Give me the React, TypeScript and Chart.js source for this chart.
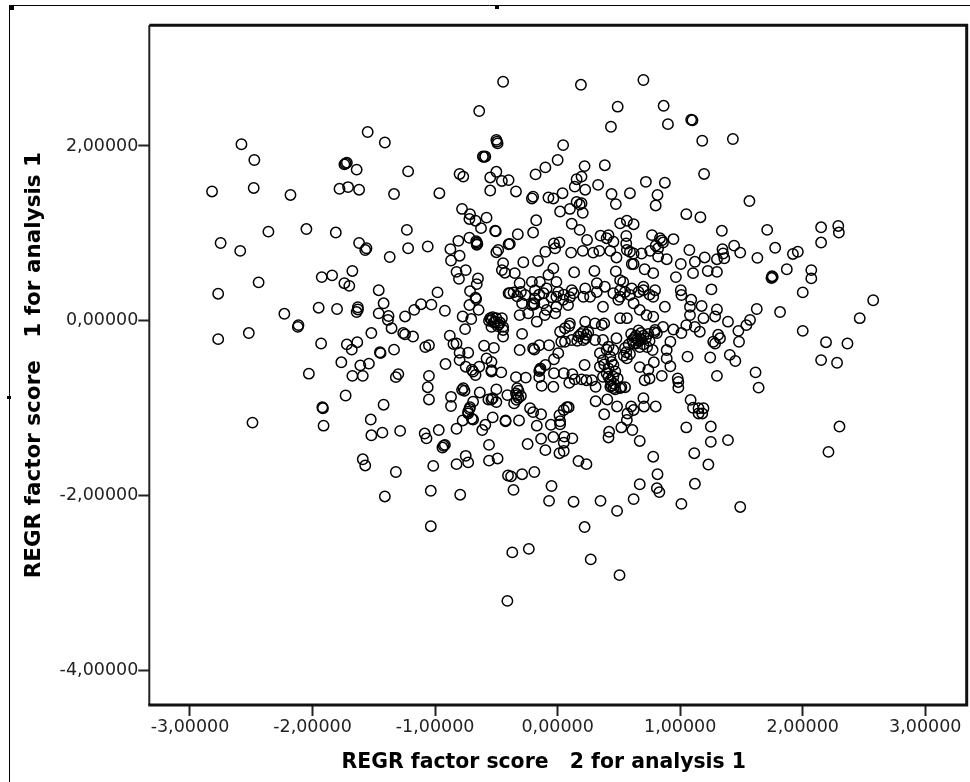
import React, { useEffect, useRef } from "react";
import { Chart, registerables } from "chart.js";

Chart.register(...registerables);

type P = [number, number];

const xTitle = "REGR factor score   2 for analysis 1    ";
const yTitle = "REGR factor score   1 for analysis 1";
const xTickValues = [-3, -2, -1, 0, 1, 2, 3];
const yTickValues = [-4, -2, 0, 2];

const farLeftUpper: P[] = [
  [-2.58,2.02],[-2.475,1.84],[-2.82,1.48],[-2.48,1.52],[-2.18,1.44],[-1.55,2.16],[-1.41,2.04],[-1.73,1.80],[-1.72,1.81],[-1.74,1.79],
  [-1.64,1.73],[-1.78,1.51],[-1.71,1.53],[-1.62,1.50],[-1.335,1.45],[-1.22,1.71],[-2.36,1.02],[-2.05,1.05],[-1.81,1.01],[-2.75,0.89],
  [-2.59,0.80],[-1.62,0.89],[-1.57,0.81],[-1.56,0.83],[-1.37,0.73],[-1.23,1.04],[-1.22,0.83],[-2.44,0.44],[-2.77,0.31],[-1.925,0.50],
  [-1.84,0.52],[-1.675,0.57],[-1.74,0.43],[-1.70,0.40],[-1.46,0.35],[-1.42,0.20],[-2.23,0.08],[-1.95,0.15],[-1.80,0.135],[-1.63,0.155],
  [-1.64,0.10],[-1.63,0.13],[-1.46,0.085],[-1.38,0.055],[-1.385,0.01],[-1.245,0.05],[-1.355,-0.085],[-1.52,-0.14],[-2.115,-0.05],[-2.12,-0.07],
  [-1.06,0.85],
];

const farLeftLower: P[] = [
  [-2.77,-0.21],[-2.52,-0.14],[-1.93,-0.26],[-1.72,-0.27],[-1.635,-0.245],[-1.68,-0.33],[-1.45,-0.36],[-1.445,-0.37],[-1.335,-0.33],[-1.245,-0.155],
  [-1.26,-0.14],[-1.765,-0.475],[-1.61,-0.51],[-1.54,-0.49],[-1.675,-0.63],[-1.59,-0.63],[-2.03,-0.605],[-1.30,-0.61],[-1.32,-0.645],[-1.73,-0.855],
  [-1.42,-0.96],[-1.92,-0.99],[-1.915,-1.0],[-1.91,-1.20],[-2.49,-1.165],[-1.525,-1.13],[-1.52,-1.31],[-1.43,-1.28],[-1.285,-1.26],[-1.59,-1.585],
  [-1.57,-1.655],[-1.32,-1.73],[-1.41,-2.01],
];

const midLeftUpper: P[] = [
  [-0.78,1.28],[-0.715,1.22],[-0.72,1.165],[-0.67,1.145],[-0.58,1.18],[-0.625,1.06],[-0.51,1.03],[-0.505,1.025],[-0.81,0.915],[-0.72,0.95],
  [-0.66,0.895],[-0.665,0.91],[-0.655,0.88],[-0.66,0.87],[-0.875,0.82],[-0.80,0.745],[-0.87,0.69],[-0.825,0.56],[-0.75,0.58],[-0.805,0.48],
  [-0.485,0.81],[-0.50,0.785],[-0.40,0.875],[-0.445,0.66],[-0.455,0.58],[-0.43,0.55],[-0.65,0.485],[-0.66,0.42],[-0.715,0.34],[-0.67,0.265],
  [-0.665,0.25],[-0.72,0.18],[-0.645,0.125],[-0.775,0.05],[-0.705,0.02],[-0.755,-0.095],[-0.40,0.315],[-0.54,0.01],[-0.55,0.03],[-0.52,-0.02],
  [-0.50,0.03],[-0.455,0.03],[-0.47,-0.02],[-0.445,-0.105],[-0.92,0.115],[-0.98,0.325],[-1.03,0.185],[-1.115,0.19],[-1.17,0.125],[-1.18,-0.18],
  [-0.88,-0.17],[-0.48,-0.04],[-0.54,-0.07],[-0.445,-0.07],[-0.445,-0.18],
];

const midLeftLower: P[] = [
  [-1.08,-0.30],[-1.05,-0.28],[-0.915,-0.495],[-0.825,-0.26],[-0.85,-0.265],[-0.73,-0.365],[-0.80,-0.365],[-0.80,-0.45],[-0.60,-0.285],[-0.52,-0.31],
  [-0.58,-0.43],[-0.54,-0.47],[-0.64,-0.525],[-0.75,-0.525],[-0.70,-0.56],[-0.69,-0.58],[-0.67,-0.62],[-0.54,-0.565],[-0.54,-0.58],[-0.46,-0.59],
  [-1.05,-0.63],[-1.06,-0.76],[-1.05,-0.90],[-0.77,-0.77],[-0.78,-0.79],[-0.76,-0.80],[-0.635,-0.82],[-0.50,-0.785],[-0.87,-0.87],[-0.87,-0.975],
  [-0.69,-0.925],[-0.715,-0.99],[-0.72,-1.01],[-0.73,-1.04],[-0.73,-1.06],[-0.53,-0.885],[-0.54,-0.90],[-0.565,-0.90],[-0.50,-0.93],[-0.425,-1.14],
  [-0.53,-1.105],[-0.59,-1.19],[-0.615,-1.25],[-0.69,-1.13],[-0.70,-1.12],[-0.775,-1.14],[-0.825,-1.235],[-0.97,-1.25],[-1.085,-1.29],[-1.07,-1.345],
  [-0.92,-1.42],[-0.94,-1.45],[-0.93,-1.43],[-0.56,-1.42],[-0.56,-1.60],[-0.49,-1.575],[-0.75,-1.545],[-0.73,-1.62],[-0.825,-1.64],[-1.015,-1.66],
  [-0.405,-1.77],[-1.035,-1.945],[-0.795,-1.99],[-1.035,-2.35],
];

const centreLower: P[] = [
  [-0.29,-0.15],[-0.31,-0.335],[-0.20,-0.315],[-0.19,-0.33],[-0.15,-0.28],[-0.07,-0.28],[0.005,-0.37],[-0.03,-0.44],[-0.10,-0.505],[-0.145,-0.56],
  [-0.15,-0.575],[-0.14,-0.545],[-0.15,-0.645],[-0.03,-0.60],[0.05,-0.60],[0.12,-0.61],[0.14,-0.67],[0.095,-0.71],[0.22,-0.505],[0.195,-0.67],
  [0.235,-0.68],[0.28,-0.68],[0.31,-0.755],[-0.13,-0.745],[-0.035,-0.755],[-0.34,-0.645],[-0.26,-0.65],[-0.33,-0.77],[-0.33,-0.85],[-0.335,-0.905],
  [-0.32,-0.80],[-0.32,-0.88],[-0.41,-0.85],[-0.355,-0.945],[-0.425,-1.15],[-0.315,-1.14],[-0.225,-1.0],[-0.20,-1.045],[-0.135,-1.07],[-0.17,-1.20],
  [-0.245,-1.41],[-0.135,-1.35],[-0.10,-1.48],[-0.035,-1.33],[-0.055,-1.19],[0.02,-1.185],[0.015,-1.08],[0.02,-1.15],[0.075,-0.99],[0.09,-0.99],
  [0.05,-1.02],[0.055,-1.325],[0.12,-1.345],[0.05,-1.395],[0.05,-1.49],[0.015,-1.515],[0.17,-1.605],[0.235,-1.64],[-0.38,-1.78],[-0.29,-1.755],
  [-0.19,-1.73],[-0.36,-1.935],[-0.05,-1.89],[-0.07,-2.06],[0.13,-2.07],[0.35,-2.06],[0.485,-2.175],[0.62,-2.04],[0.22,-2.36],[0.67,-1.87],
  [0.81,-1.915],[0.83,-1.96],[0.815,-1.755],[0.78,-1.555],[0.67,-1.375],[1.05,-1.22],[1.115,-1.515],[1.12,-1.865],[1.01,-2.095],[0.42,-1.27],
  [0.415,-1.335],[0.52,-1.22],[0.61,-1.25],[0.38,-1.07],[0.565,-1.135],[0.31,-0.92],[0.405,-0.90],[0.485,-0.98],[0.60,-0.98],[0.62,-1.02],
  [0.70,-0.885],[0.705,-0.98],[0.80,-0.98],[0.57,-1.06],[-0.37,-2.65],[-0.235,-2.61],[-0.41,-3.205],[0.27,-2.73],[0.505,-2.91],
];

const centreDense: P[] = [
  [0.43,-0.755],[0.455,-0.77],[0.51,-0.77],[0.55,-0.76],[0.44,-0.74],[0.47,-0.785],[0.52,-0.76],[0.415,-0.64],[0.455,-0.64],[0.37,-0.64],
  [0.345,-0.525],[0.415,-0.545],[0.455,-0.505],[0.345,-0.37],[0.37,-0.45],[0.43,-0.41],[0.415,-0.295],[0.48,-0.20],[0.455,-0.335],[0.37,-0.22],
  [0.305,-0.22],[0.21,-0.125],[0.21,-0.22],[0.17,-0.18],[0.235,-0.16],[0.115,-0.22],[0.06,-0.24],[0.03,-0.24],[0.02,-0.125],[0.06,-0.085],
  [0.10,-0.03],[0.095,-0.06],[0.225,-0.01],[0.305,-0.03],[0.38,-0.03],[0.36,-0.05],[0.51,0.03],[0.565,0.03],[0.37,0.16],[0.495,0.24],
  [0.62,0.20],[0.67,0.125],[0.725,0.065],[0.78,0.047],[0.875,0.16],[0.63,-0.19],[0.64,-0.17],[0.65,-0.21],[0.68,-0.14],[0.70,-0.17],
  [0.70,-0.27],[0.72,-0.20],[0.64,-0.26],[0.66,-0.23],[0.61,-0.22],[0.66,-0.11],[0.795,-0.105],[0.81,-0.14],[0.79,-0.13],[0.565,-0.43],
  [0.54,-0.40],[0.59,-0.38],[0.56,-0.36],[0.67,-0.53],[0.775,-0.335],[0.785,-0.475],[0.74,-0.56],[0.71,-0.68],[0.75,-0.66],[0.85,-0.63],
  [0.92,-0.52],[0.89,-0.43],[0.89,-0.335],[0.92,-0.24],[0.98,-0.66],[0.985,-0.70],[0.985,-0.765],[1.06,-0.41],[1.085,-0.905],[1.105,-0.995],
  [1.15,-1.0],[1.15,-1.06],[1.01,-0.14],[0.945,-0.10],[0.86,-0.07],[1.05,-0.05],[1.12,-0.07],[1.08,0.065],[1.08,0.16],[1.09,0.24],
  [1.01,0.295],
];

const clusterExtras: P[] = [
  [-0.56,0.0],[-0.53,0.04],[-0.51,-0.01],[-0.49,-0.06],[0.19,-0.15],[0.23,-0.20],[0.25,-0.13],[0.16,-0.23],[0.40,-0.33],[0.44,-0.47],
  [0.47,-0.58],[0.40,-0.60],[0.43,-0.68],[0.38,-0.50],[0.46,-0.72],[0.49,-0.66],[0.60,-0.15],[0.62,-0.26],[0.68,-0.21],[0.74,-0.15],
  [0.67,-0.30],[0.73,-0.30],[0.75,-0.23],[0.58,-0.27],[0.55,-0.31],[-0.30,0.33],[-0.33,0.28],[-0.15,0.30],[-0.05,0.27],[0.05,0.30],
  [0.55,0.33],[0.66,0.33],[0.75,0.30],[-0.34,-0.83],[-0.30,-0.86],
];

const centreUpper: P[] = [
  [-0.445,2.735],[0.19,2.70],[0.70,2.755],[-0.64,2.40],[0.49,2.45],[0.865,2.46],[0.435,2.22],[0.90,2.25],[1.09,2.30],[1.10,2.295],
  [-0.50,2.07],[-0.495,2.05],[-0.49,2.03],[0.045,2.01],[-0.61,1.88],[-0.60,1.875],[-0.59,1.88],[0.0,1.84],[-0.10,1.755],[-0.18,1.675],
  [0.22,1.77],[0.385,1.78],[-0.80,1.68],[-0.77,1.65],[-0.55,1.64],[-0.50,1.705],[-0.455,1.60],[-0.40,1.61],[-0.55,1.49],[-0.34,1.48],
  [-0.965,1.46],[-0.21,1.40],[-0.20,1.42],[-0.075,1.41],[-0.035,1.40],[0.04,1.46],[0.155,1.62],[0.195,1.65],[0.14,1.535],[0.225,1.50],
  [0.33,1.555],[0.72,1.59],[0.875,1.58],[0.59,1.46],[0.44,1.45],[0.475,1.335],[0.815,1.44],[0.80,1.32],[1.05,1.22],[0.155,1.36],
  [0.195,1.345],[0.205,1.235],[0.10,1.28],[0.02,1.25],[0.18,1.33],[0.115,1.11],[0.18,1.04],[0.51,1.115],[0.565,1.145],[0.62,1.105],
  [-0.175,1.15],[-0.20,1.01],[-0.325,0.99],[-0.39,0.88],[-0.28,0.67],[-0.16,0.685],[-0.10,0.79],[-0.03,0.885],[0.015,0.895],[-0.02,0.83],
  [0.11,0.78],[0.205,0.80],[0.24,0.925],[0.29,0.78],[0.34,0.80],[0.35,0.975],[0.415,0.98],[0.40,0.945],[0.455,0.905],[0.43,0.80],
  [0.48,0.725],[0.56,0.97],[0.56,0.885],[0.565,0.81],[0.59,0.79],[0.62,0.77],[0.605,0.65],[0.62,0.65],[0.685,0.77],[0.71,0.59],
  [0.755,0.80],[0.77,0.98],[0.835,0.945],[0.86,0.895],[0.82,0.83],[0.82,0.735],[0.89,0.705],[0.945,0.935],[0.85,0.92],[0.80,0.86],
  [1.075,0.81],[1.12,0.675],[1.005,0.65],[1.105,0.545],[0.965,0.50],[0.78,0.545],[0.475,0.565],[0.30,0.57],[0.135,0.555],[-0.035,0.60],
  [-0.075,0.525],[-0.01,0.445],[-0.35,0.545],[-0.31,0.43],[-0.21,0.445],[-0.145,0.445],[-0.185,0.35],[-0.265,0.295],[-0.36,0.325],[-0.39,0.315],
  [-0.09,0.37],[0.005,0.33],[0.115,0.35],[0.225,0.37],[0.32,0.43],[0.385,0.39],[0.51,0.465],[0.535,0.445],[0.51,0.35],[0.605,0.37],
  [0.70,0.39],[0.70,0.35],[0.795,0.35],[1.005,0.35],[0.455,0.315],[0.32,0.33],[0.21,0.275],[-0.01,0.275],[-0.115,0.315],[-0.185,0.255],
  [0.10,0.27],[0.51,0.275],[0.59,0.295],[0.78,0.275],[-0.20,0.20],[-0.19,0.19],[-0.21,0.18],[-0.29,0.20],[-0.31,0.065],[-0.24,0.085],
  [-0.17,-0.01],[-0.105,0.065],[-0.09,0.125],[-0.02,0.085],[-0.01,0.16],[0.085,0.18],[0.13,0.315],[0.265,0.275],[0.045,0.24],[-0.115,0.20],
];

const farRight: P[] = [
  [1.18,2.06],[1.43,2.08],[1.195,1.68],[1.565,1.37],[1.165,1.185],[1.71,1.04],[2.15,1.07],[2.29,1.085],[2.295,1.01],[2.15,0.895],
  [1.34,1.03],[1.775,0.835],[1.92,0.765],[1.96,0.79],[1.87,0.59],[2.07,0.58],[2.07,0.485],[1.745,0.49],[1.755,0.50],[1.75,0.51],
  [2.0,0.325],[1.63,0.72],[1.44,0.86],[1.49,0.78],[1.345,0.82],[1.36,0.715],[1.35,0.77],[1.20,0.725],[1.30,0.705],[1.225,0.57],
  [1.30,0.56],[1.255,0.36],[1.625,0.135],[1.815,0.10],[2.575,0.235],[2.465,0.03],[1.175,0.17],[1.30,0.13],[1.19,0.03],[1.285,0.05],
  [1.39,-0.01],[1.57,0.01],[2.0,-0.115],[2.19,-0.245],[2.365,-0.26],[2.15,-0.45],[2.28,-0.48],[2.30,-1.21],[2.21,-1.50],[1.615,-0.59],
  [1.64,-0.765],[1.48,-0.24],[1.475,-0.115],[1.54,-0.05],[1.31,-0.16],[1.27,-0.24],[1.325,-0.20],[1.285,-0.26],[1.16,-0.125],[1.245,-0.42],
  [1.405,-0.39],[1.45,-0.46],[1.30,-0.63],[1.19,-1.0],[1.18,-1.06],[1.25,-1.21],[1.25,-1.385],[1.39,-1.365],[1.23,-1.645],[1.49,-2.13],
];

const allPoints = [
  ...farLeftUpper, ...farLeftLower, ...midLeftUpper, ...midLeftLower,
  ...centreLower, ...centreDense, ...clusterExtras, ...centreUpper, ...farRight,
].map(([x, y]) => ({ x, y }));

const fmt = (v: number) => v.toFixed(5).replace(".", ",");

const framePlugin = {
  id: "frame",
  afterDraw(chart: any) {
    const { ctx, chartArea: a } = chart;
    ctx.save();
    ctx.strokeStyle = "#222";
    ctx.lineWidth = 2;
    ctx.beginPath();
    ctx.moveTo(a.left, a.bottom);
    ctx.lineTo(a.left, a.top);
    ctx.stroke();
    ctx.strokeStyle = "#111";
    ctx.lineWidth = 3;
    ctx.beginPath();
    ctx.moveTo(a.left, a.top);
    ctx.lineTo(a.right, a.top);
    ctx.lineTo(a.right, a.bottom);
    ctx.lineTo(a.left - 1, a.bottom);
    ctx.stroke();
    // the screenshot's outer page border and its stray marks
    ctx.strokeStyle = "#000";
    ctx.lineWidth = 1;
    ctx.beginPath();
    ctx.moveTo(9.5, 782);
    ctx.lineTo(9.5, 5.5);
    ctx.lineTo(970, 5.5);
    ctx.stroke();
    ctx.fillStyle = "#000";
    ctx.fillRect(9, 5, 5, 5);
    ctx.fillRect(495, 5, 4, 4);
    ctx.fillRect(7, 396, 4, 3);
    ctx.restore();
  },
};

export default function App() {
  const ref = useRef<HTMLCanvasElement>(null);
  useEffect(() => {
    const chart = new Chart(ref.current!, {
      type: "scatter",
      plugins: [framePlugin],
      data: {
        datasets: [
          {
            label: "scores",
            data: allPoints,
            pointStyle: "circle",
            pointRadius: 5.2,
            pointBorderWidth: 1.5,
            pointBackgroundColor: "rgba(0,0,0,0)",
            pointBorderColor: "#000",
          },
        ],
      },
      options: {
        animation: false,
        responsive: false,
        layout: { autoPadding: false, padding: { left: 0, right: 3.3, top: 25.3, bottom: 0 } },
        plugins: { legend: { display: false }, tooltip: { enabled: false } },
        scales: {
          x: {
            type: "linear",
            min: -3.332,
            max: 3.338,
            afterBuildTicks: (s: any) => {
              s.ticks = xTickValues.map((value) => ({ value }));
            },
            afterFit: (s: any) => {
              s.height = 77;
              s.paddingLeft = 0;
              s.paddingRight = 0;
            },
            border: { display: false },
            grid: { drawOnChartArea: false, tickLength: 11, tickWidth: 2, tickColor: "#222" },
            ticks: {
              autoSkip: false,
              maxRotation: 0,
              padding: 0.5,
              color: "#222",
              font: { family: "DejaVu Sans", size: 17.5 },
              callback: (v: any) => fmt(Number(v)),
            },
            title: {
              display: true,
              text: xTitle,
              color: "#000",
              font: { family: "DejaVu Sans", size: 20.4, weight: "bold" },
              padding: { top: 0, bottom: 6.8 },
            },
          },
          y: {
            type: "linear",
            min: -4.396,
            max: 3.381,
            afterBuildTicks: (s: any) => {
              s.ticks = yTickValues.map((value) => ({ value }));
            },
            afterFit: (s: any) => {
              s.width = 149.3;
              s.paddingTop = 0;
              s.paddingBottom = 0;
            },
            border: { display: false },
            grid: { drawOnChartArea: false, tickLength: 11, tickWidth: 2, tickColor: "#222" },
            ticks: {
              autoSkip: false,
              padding: 0,
              color: "#222",
              font: { family: "DejaVu Sans", size: 17.5 },
              callback: (v: any) => fmt(Number(v)),
            },
            title: {
              display: true,
              text: yTitle,
              color: "#000",
              font: { family: "DejaVu Sans", size: 21.5, weight: "bold" },
              padding: { top: 22, bottom: 0 },
            },
          },
        },
      },
    } as any);
    return () => chart.destroy();
  }, []);
  return (
    <canvas
      ref={ref}
      width={970}
      height={782}
      style={{ position: "absolute", left: 0, top: 0, width: 970, height: 782, background: "#fff" }}
    />
  );
}
